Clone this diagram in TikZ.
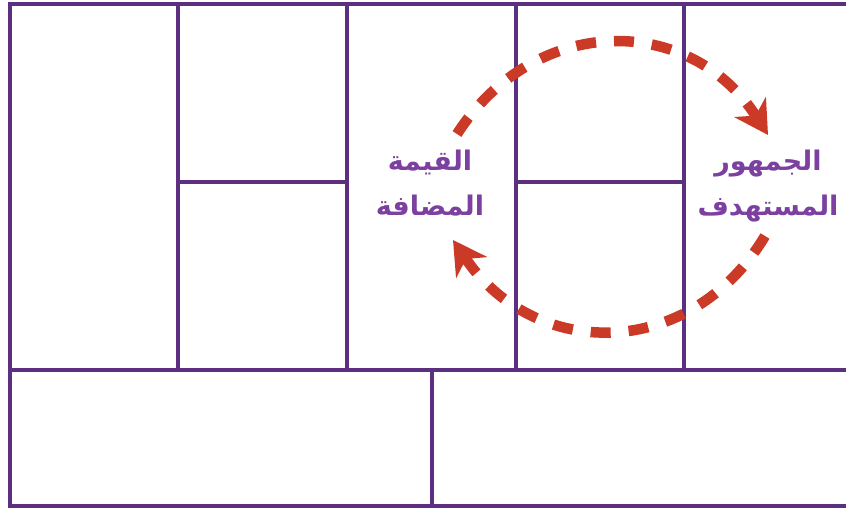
\documentclass[tikz,border=0pt]{standalone}
\usepackage{fontspec}
\newfontfamily\arabicfont[Script=Arabic]{DejaVu Sans}
\TeXXeTstate=1
\usetikzlibrary{arrows.meta}
\definecolor{gridpurple}{HTML}{5C2F80}
\definecolor{textpurple}{HTML}{7B40A0}
\definecolor{arcred}{HTML}{CA3A26}

\begin{document}
\begin{tikzpicture}[x=1pt,y=-1pt,
  gridline/.style={gridpurple,line width=4.5pt},
  cyclearc/.style={arcred,line width=10.5pt,dash pattern=on 20pt off 18pt,
    -{Stealth[length=33pt,width=37pt,inset=10pt]}},
  arlabel/.style={textpurple,align=center,
    font=\arabicfont\bfseries\fontsize{27}{45}\selectfont}]
  \useasboundingbox (0,0) rectangle (846,509);
  % ---------------- canvas grid ----------------
  \draw[gridline] (846,4) -- (10,4) -- (10,506) -- (846,506);
  \draw[gridline] (10,370) -- (846,370);
  \foreach \x in {178,347,516,684}
    \draw[gridline] (\x,4) -- (\x,370);
  \draw[gridline] (178,182) -- (347,182);
  \draw[gridline] (516,182) -- (684,182);
  \draw[gridline] (432,370) -- (432,506);
  % ---------------- labels ----------------
  \node[arlabel] (value) at (430,183) {\beginR القيمة\endR\\\beginR المضافة\endR};
  \node[arlabel] (audience) at (768,186) {\beginR الجمهور\endR\\\beginR المستهدف\endR};
  % ---------------- cycle arrows ----------------
  \coordinate (valueTop) at (457,134);
  \coordinate (audienceTop) at (768,135);
  \coordinate (audienceBot) at (765,236);
  \coordinate (valueBot) at (453,240);
  \draw[cyclearc] (valueTop) .. controls (535,13) and (690,13) .. (audienceTop);
  \draw[cyclearc] (audienceBot) .. controls (690,361) and (535,361) .. (valueBot);
\end{tikzpicture}
\end{document}
